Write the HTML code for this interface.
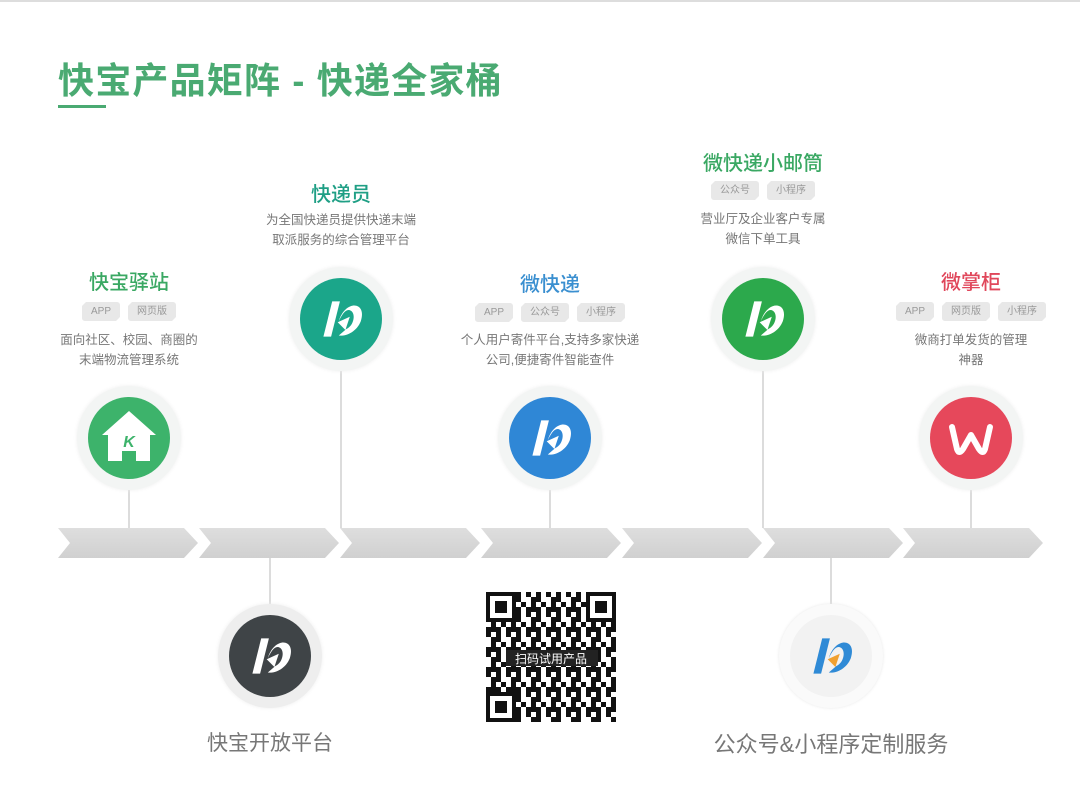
<!DOCTYPE html>
<html><head><meta charset="utf-8">
<style>
*{margin:0;padding:0;box-sizing:border-box}
body{width:1080px;height:810px;background:#fff;position:relative;overflow:hidden;font-family:"Liberation Sans","Noto Sans CJK SC",sans-serif}
.a{position:absolute}
.t{position:absolute;text-align:center;font-weight:500;font-size:20px;white-space:nowrap;transform:translateX(-50%)}
.d{position:absolute;text-align:center;font-size:12.5px;color:#777;line-height:20px;white-space:nowrap;transform:translateX(-50%)}
.tags{position:absolute;display:flex;gap:8px;transform:translateX(-50%);white-space:nowrap}
.tag{flex-shrink:0;white-space:nowrap;background:#e8e8e8;color:#999;font-size:10px;height:19px;line-height:19px;padding:0 9px;clip-path:polygon(4px 0,100% 0,100% calc(100% - 4px),calc(100% - 4px) 100%,0 100%,0 4px);border-radius:3px}
.vl{position:absolute;width:2px;background:#dcdcdc}
.halo{position:absolute;border-radius:50%;background:#f3f5f4;box-shadow:0 0 4px #eee}
.c{position:absolute;border-radius:50%}
.chev{position:absolute;top:528px;height:30px;background:linear-gradient(#dedede,#d0d0d0);clip-path:polygon(0 0,calc(100% - 14px) 0,100% 50%,calc(100% - 14px) 100%,0 100%,12px 50%)}
</style></head><body>
<div class="a" style="left:0;top:0;width:1080px;height:2px;background:#ddd"></div>
<div class="a" style="left:58px;top:52px;font-size:36px;font-weight:bold;color:#4aaa72;white-space:nowrap;letter-spacing:1.2px">快宝产品矩阵 - 快递全家桶</div>
<div class="a" style="left:58px;top:105px;width:48px;height:3px;background:#4aaa72"></div>

<div class="chev" style="left:58px;width:140px"></div>
<div class="chev" style="left:199px;width:140px"></div>
<div class="chev" style="left:340px;width:140px"></div>
<div class="chev" style="left:481px;width:140px"></div>
<div class="chev" style="left:622px;width:140px"></div>
<div class="chev" style="left:763px;width:140px"></div>
<div class="chev" style="left:903px;width:140px"></div>

<div class="vl" style="left:128px;top:480px;height:48px"></div>
<div class="vl" style="left:340px;top:360px;height:168px"></div>
<div class="vl" style="left:549px;top:480px;height:48px"></div>
<div class="vl" style="left:762px;top:360px;height:168px"></div>
<div class="vl" style="left:970px;top:480px;height:48px"></div>
<div class="vl" style="left:269px;top:558px;height:48px"></div>
<div class="vl" style="left:830px;top:558px;height:48px"></div>

<svg width="0" height="0" style="position:absolute">
<defs>
<g id="logo"><path d="M-16,16 L-8,-16 L-1,-16 L-9,16 Z" fill="#fff"/><path d="M-2,2 C4,-18 24,-16 18,2 C14,12 4,16 -2,15 L5,9 C12,6 14,-6 8,-8 C4,-9 1,-4 -2,2 Z" fill="#fff"/><path d="M-3,3 L8,-2 L4,10 Z" fill="#fff"/></g>
</defs></svg>

<div class="t" style="left:129px;top:266px;color:#3aa863">快宝驿站</div>
<div class="tags" style="left:129px;top:302px"><span class="tag">APP</span><span class="tag">网页版</span></div>
<div class="d" style="left:129px;top:330px">面向社区、校园、商圈的<br>末端物流管理系统</div>
<div class="halo" style="left:77px;top:386px;width:104px;height:104px"></div>
<div class="c" style="left:88px;top:397px;width:82px;height:82px;background:#3db36b"></div>
<svg class="a" style="left:88px;top:397px" width="82" height="82"><path d="M41,14 L68,38 L62,38 L62,64 L48,64 L48,54 L34,54 L34,64 L20,64 L20,38 L14,38 Z" fill="#fff"/><text x="41" y="50" font-size="16" font-weight="bold" fill="#3db36b" text-anchor="middle" font-style="italic">K</text></svg>

<div class="t" style="left:341px;top:178px;color:#1f9f85">快递员</div>
<div class="d" style="left:341px;top:210px">为全国快递员提供快递末端<br>取派服务的综合管理平台</div>
<div class="halo" style="left:289px;top:267px;width:104px;height:104px"></div>
<div class="c" style="left:300px;top:278px;width:82px;height:82px;background:#1ba68a"></div>
<svg class="a" style="left:300px;top:278px" width="82" height="82"><use href="#logo" transform="translate(41,41) scale(1.1)"/></svg>

<div class="t" style="left:550px;top:268px;color:#3a8fd0">微快递</div>
<div class="tags" style="left:550px;top:303px"><span class="tag">APP</span><span class="tag">公众号</span><span class="tag">小程序</span></div>
<div class="d" style="left:550px;top:330px">个人用户寄件平台,支持多家快递<br>公司,便捷寄件智能查件</div>
<div class="halo" style="left:498px;top:386px;width:104px;height:104px"></div>
<div class="c" style="left:509px;top:397px;width:82px;height:82px;background:#2f87d6"></div>
<svg class="a" style="left:509px;top:397px" width="82" height="82"><use href="#logo" transform="translate(41,41) scale(1.1)"/></svg>

<div class="t" style="left:763px;top:147px;color:#3aa863">微快递小邮筒</div>
<div class="tags" style="left:763px;top:181px"><span class="tag">公众号</span><span class="tag">小程序</span></div>
<div class="d" style="left:763px;top:209px">营业厅及企业客户专属<br>微信下单工具</div>
<div class="halo" style="left:711px;top:267px;width:104px;height:104px"></div>
<div class="c" style="left:722px;top:278px;width:82px;height:82px;background:#2ca94c"></div>
<svg class="a" style="left:722px;top:278px" width="82" height="82"><use href="#logo" transform="translate(41,41) scale(1.1)"/></svg>

<div class="t" style="left:971px;top:266px;color:#e0475b">微掌柜</div>
<div class="tags" style="left:971px;top:302px"><span class="tag">APP</span><span class="tag">网页版</span><span class="tag">小程序</span></div>
<div class="d" style="left:971px;top:330px">微商打单发货的管理<br>神器</div>
<div class="halo" style="left:919px;top:386px;width:104px;height:104px"></div>
<div class="c" style="left:930px;top:397px;width:82px;height:82px;background:#e6485b"></div>
<svg class="a" style="left:930px;top:397px" width="82" height="82"><path d="M22,30 L27,52 Q29,58 33,52 L41,38 L49,52 Q53,58 55,52 L60,30" fill="none" stroke="#fff" stroke-width="6" stroke-linecap="round" stroke-linejoin="round"/></svg>

<div class="halo" style="left:218px;top:604px;width:104px;height:104px;background:#eeeeee"></div>
<div class="c" style="left:229px;top:615px;width:82px;height:82px;background:#3f4447"></div>
<svg class="a" style="left:229px;top:615px" width="82" height="82"><use href="#logo" transform="translate(41,41) scale(1.1)"/></svg>
<div class="t" style="left:270px;top:727px;color:#777;font-weight:400;font-size:21px">快宝开放平台</div>

<svg class="a" style="left:486px;top:592px" width="130" height="130">
<defs><pattern id="qr" width="20" height="20" patternUnits="userSpaceOnUse">
<rect width="20" height="20" fill="#fff"/>
<rect x="0" y="0" width="5" height="5" fill="#111"/><rect x="10" y="0" width="5" height="10" fill="#111"/><rect x="5" y="5" width="5" height="5" fill="#111"/><rect x="15" y="10" width="5" height="5" fill="#111"/><rect x="0" y="15" width="10" height="5" fill="#111"/><rect x="10" y="15" width="5" height="5" fill="#111"/><rect x="5" y="10" width="5" height="5" fill="#111"/>
</pattern></defs>
<rect width="130" height="130" fill="url(#qr)"/>
<g fill="#111"><rect x="0" y="0" width="30" height="30"/><rect x="100" y="0" width="30" height="30"/><rect x="0" y="100" width="30" height="30"/></g>
<g fill="#fff"><rect x="4" y="4" width="22" height="22"/><rect x="104" y="4" width="22" height="22"/><rect x="4" y="104" width="22" height="22"/></g>
<g fill="#111"><rect x="9" y="9" width="12" height="12"/><rect x="109" y="9" width="12" height="12"/><rect x="9" y="109" width="12" height="12"/></g>
<rect x="20" y="58" width="92" height="16" fill="#222"/>
<text x="65" y="71" font-size="12" fill="#fff" text-anchor="middle" font-family="Noto Sans CJK SC,sans-serif">扫码试用产品</text>
</svg>

<div class="halo" style="left:779px;top:604px;width:104px;height:104px;background:#fafafa;box-shadow:0 0 3px #e8e8e8"></div>
<div class="c" style="left:790px;top:615px;width:82px;height:82px;background:#f2f2f2"></div>
<svg class="a" style="left:790px;top:615px" width="82" height="82"><g transform="translate(41,41) scale(1.1)"><path d="M-16,16 L-8,-16 L-1,-16 L-9,16 Z" fill="#2f8ad6"/><path d="M-2,2 C4,-18 24,-16 18,2 C14,12 4,16 -2,15 L5,9 C12,6 14,-6 8,-8 C4,-9 1,-4 -2,2 Z" fill="#2f8ad6"/><path d="M-3,3 L8,-2 L4,10 Z" fill="#f0a030"/></g></svg>
<div class="t" style="left:831px;top:727px;color:#777;font-weight:400;font-size:22px">公众号&amp;小程序定制服务</div>
</body></html>
